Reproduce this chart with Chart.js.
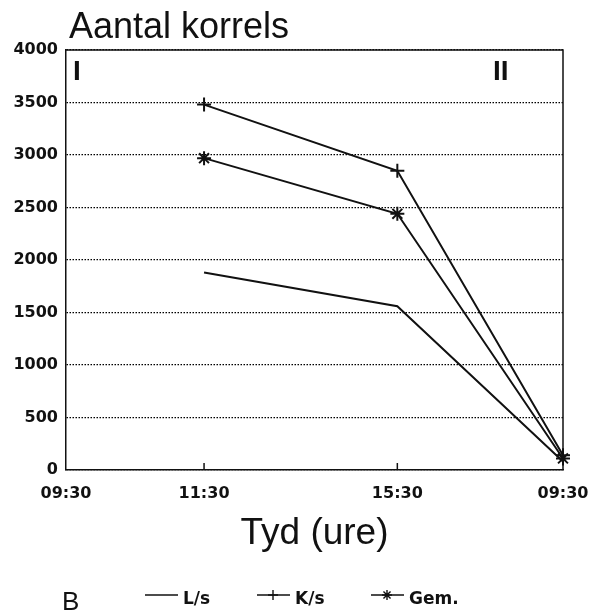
<!DOCTYPE html>
<html lang="af">
<head>
  <meta charset="UTF-8">
  <title>Aantal korrels</title>
  <script src="https://cdn.jsdelivr.net/npm/chart.js"></script>
  <style>
    html,body{margin:0;padding:0;background:#fff}
    #wrap{width:591px;height:612px}
  </style>
</head>
<body>
<div id="wrap"><canvas id="korrels" width="591" height="612"></canvas></div>
<script>
// time axis: labels and their spacing on the axis as drawn in the original
const timeLabels = ['09:30','11:30','15:30','09:30'];
const timePos    = [0, 5, 12, 18];

// counts per series, starting at 11:30
const lsValues  = [1880, 1560, 80];
const ksValues  = [3480, 2850, 140];
const gemValues = [2970, 2440, 110];

const yTicks = [0,500,1000,1500,2000,2500,3000,3500,4000];

const pts = vals => vals.map((v,i)=>({x:timePos[i+1], y:v}));
const INK = '#111';
const tickFont = {family:'DejaVu Sans', weight:'bold', size:16};

/* extra bits: box edges, inner ticks, numerals, headings, legend */
const extras = {
  id:'extras',
  afterDraw(chart){
    const {ctx, chartArea:a, scales} = chart;
    ctx.save();
    ctx.strokeStyle = INK; ctx.fillStyle = INK; ctx.lineWidth = 1.5;
    ctx.beginPath();
    ctx.moveTo(a.left, a.top); ctx.lineTo(a.right, a.top); ctx.lineTo(a.right, a.bottom);
    ctx.stroke();
    // small inner ticks on the time axis
    timePos.slice(1,-1).forEach(p=>{
      const x = scales.x.getPixelForValue(p);
      ctx.beginPath(); ctx.moveTo(x, a.bottom); ctx.lineTo(x, a.bottom-7); ctx.stroke();
    });
    ctx.textBaseline = 'alphabetic';
    ctx.font = 'bold 28px "Liberation Sans"';
    ctx.textAlign = 'left';
    ctx.fillText('I', a.left+7, a.top+30);
    ctx.fillText('II', a.right-70, a.top+30);
    ctx.font = '36px "Liberation Sans"';
    ctx.fillText('Aantal korrels', 69, 38);
    ctx.font = '26px "Liberation Sans"';
    ctx.fillText('B', 62, 610);

    // legend
    const items = [[145,'L/s'],[257,'K/s'],[371,'Gem.']];
    const ly = 595;
    chart.data.datasets.forEach((ds,i)=>{
      const [x0,txt] = items[i];
      ctx.lineWidth = 1.4;
      ctx.beginPath(); ctx.moveTo(x0, ly); ctx.lineTo(x0+33, ly); ctx.stroke();
      if(ds.pointStyle !== 'line'){
        Chart.helpers.drawPoint(ctx,{pointStyle:ds.pointStyle, radius:5, borderWidth:1.6}, x0+16, ly);
      }
      ctx.font = 'bold 17px "DejaVu Sans"';
      ctx.textBaseline = 'middle';
      ctx.fillText(txt, x0+38, ly+5);
    });
    ctx.restore();
  }
};

const mk = (label, vals, style, r) => ({
  label, data: pts(vals),
  borderColor: INK, backgroundColor: INK,
  borderWidth: 2, pointStyle: style, pointRadius: r,
  pointBorderWidth: 2, pointBorderColor: INK, tension: 0, clip: false
});

new Chart(document.getElementById('korrels'), {
  type: 'line',
  data: {
    datasets: [
      mk('L/s', lsValues, 'line', 0),
      mk('K/s', ksValues, 'cross', 7),
      mk('Gem.', gemValues, 'star', 7)
    ]
  },
  options: {
    responsive: false,
    animation: false,
    layout: {padding:{top:50, right:28, left:0, bottom:45}},
    plugins: {legend:{display:false}, tooltip:{enabled:false}},
    scales: {
      x: {
        type: 'linear', min: timePos[0], max: timePos[timePos.length-1],
        afterBuildTicks: s => { s.ticks = timePos.map(v=>({value:v})); },
        afterFit: s => { s.height = 97; s.paddingLeft = 0; s.paddingRight = 0; },
        ticks: {
          color: INK, font: tickFont, padding: 14, maxRotation: 0, autoSkip: false,
          callback: (v, i) => timeLabels[i]
        },
        grid: {display:false, drawTicks:false},
        border: {color: INK, width: 1.5},
        title: {display:true, text:'Tyd (ure)', color:INK,
                font:{family:'Liberation Sans', size:37}, padding:{top:0,bottom:11}}
      },
      y: {
        min: 0, max: 4000,
        afterBuildTicks: s => { s.ticks = yTicks.map(v=>({value:v})); },
        afterFit: s => { s.width = 66; s.paddingTop = 0; s.paddingBottom = 0; },
        ticks: {color: INK, font: tickFont, padding: 8, callback: v => String(v)},
        grid: {color: '#000', lineWidth: 1.2, drawTicks: false},
        border: {color: INK, width: 1.5, dash: [1.5,1.5]}
      }
    }
  },
  plugins: [extras]
});
</script>
</body>
</html>
